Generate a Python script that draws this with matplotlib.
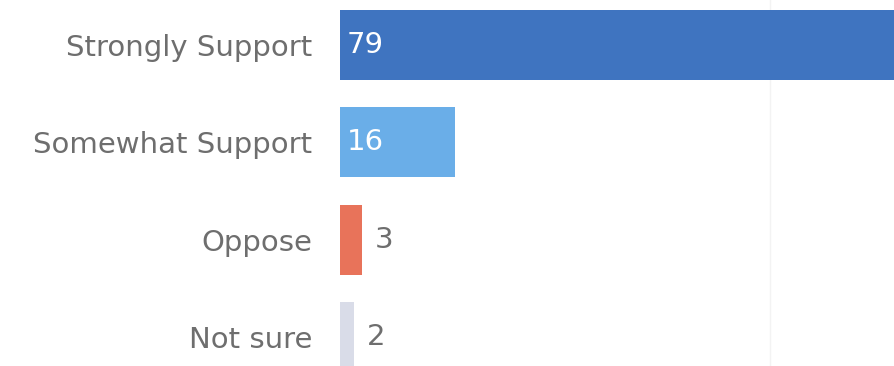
import matplotlib.pyplot as plt
from matplotlib import transforms

# Datos
categories = ['Strongly Support', 'Somewhat Support', 'Oppose', 'Not sure']
values = [79, 16, 3, 2]
colors = ['#3f74c0', '#6aaee8', '#e8735a', '#d9dce8']

plt.rcParams['font.family'] = ['DejaVu Sans']

fig = plt.figure(figsize=(8.94, 3.66), dpi=100)
ax = fig.add_axes([340 / 894, 0, 554 / 894, 1])

y = range(len(categories))
ax.barh(y, values, height=0.72, color=colors)

ax.set_xlim(0, 77.3)
ax.set_ylim(3.30, -0.4625)

# Línea de rejilla muy tenue
ax.axvline(60, color='#f3f3f3', lw=1, zorder=0)

ax.set_yticks(list(y))
ax.set_yticklabels(categories, fontsize=21, color='#6e6e6e')
ax.tick_params(axis='y', length=0, pad=20)
ax.set_xticks([])
for s in ax.spines.values():
    s.set_visible(False)

# Etiquetas de valores
for i, v in enumerate(values):
    if v >= 10:
        tr = transforms.offset_copy(ax.transData, fig=fig, x=7, y=0, units='dots')
        ax.text(0, i, str(v), transform=tr, color='white', fontsize=21,
                va='center', ha='left')
    else:
        tr = transforms.offset_copy(ax.transData, fig=fig, x=13, y=0, units='dots')
        ax.text(v, i, str(v), transform=tr, color='#6e6e6e', fontsize=21,
                va='center', ha='left')

fig.savefig('out.png', dpi=100)
